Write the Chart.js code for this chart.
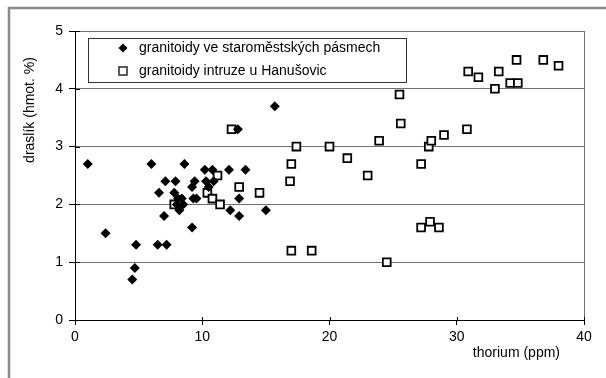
<!DOCTYPE html>
<html>
<head>
<meta charset="utf-8">
<script src="https://cdn.jsdelivr.net/npm/chart.js@4.4.1/dist/chart.umd.min.js"></script>
<style>
  body { margin: 0; background: #fff; }
</style>
</head>
<body>
<canvas id="chart" width="606" height="378"></canvas>
<script>
const seriesNames = ['granitoidy ve staroměstských pásmech', 'granitoidy intruze u Hanušovic'];

// granitoidy ve staroměstských pásmech
const staroThorium = [1.0, 2.4, 4.5, 4.7, 4.8, 6.0, 6.5, 7.2, 6.6, 7.1, 7.0, 7.9, 7.8, 8.1, 8.4, 8.2, 8.5, 8.0, 8.6,
  9.2, 9.2, 9.4, 9.3, 9.55, 10.2, 10.8, 10.3, 10.5, 10.9, 12.1, 13.4, 12.9, 12.2, 12.9, 15.0, 12.8, 15.7];
const staroDraslik = [2.7, 1.5, 0.7, 0.9, 1.3, 2.7, 1.3, 1.3, 2.2, 2.4, 1.8, 2.4, 2.2, 2.1, 2.1, 1.9, 2.0, 2.0, 2.7,
  1.6, 2.3, 2.4, 2.1, 2.1, 2.6, 2.6, 2.4, 2.3, 2.4, 2.6, 2.6, 2.1, 1.9, 1.8, 1.9, 3.3, 3.7];

// granitoidy intruze u Hanušovic
const hanuThorium = [7.8, 10.4, 10.8, 11.2, 11.4, 12.3, 12.9, 14.5, 16.9, 17.0, 17.4, 17.0, 18.6, 20.0, 21.4, 23.0,
  23.9, 24.5, 25.5, 25.6, 27.2, 27.2, 27.9, 28.6, 27.8, 28.0, 29.0, 30.8, 30.9, 31.7, 33.3, 33.0, 34.2, 34.8, 34.7, 36.8, 38.0];
const hanuDraslik = [2.0, 2.2, 2.1, 2.5, 2.0, 3.3, 2.3, 2.2, 2.4, 2.7, 3.0, 1.2, 1.2, 3.0, 2.8, 2.5,
  3.1, 1.0, 3.9, 3.4, 2.7, 1.6, 1.7, 1.6, 3.0, 3.1, 3.2, 3.3, 4.3, 4.2, 4.3, 4.0, 4.1, 4.1, 4.5, 4.5, 4.4];

const xTitle = 'thorium (ppm)';
const yTitle = 'draslík (hmot. %)';
const xMax = 40;
const yMax = 5;

const font = 'Liberation Sans';

function toPoints(xs, ys) {
  return xs.map((x, i) => ({x: x, y: ys[i]}));
}

// outer frame, inside tick marks, axis titles, legend box
const extras = {
  id: 'extras',
  beforeDraw(chart) {
    const ctx = chart.ctx;
    ctx.save();
    ctx.fillStyle = '#fff';
    ctx.fillRect(0, 0, chart.width, chart.height);
    ctx.strokeStyle = '#8c8c8c';
    ctx.lineWidth = 2.5;
    ctx.strokeRect(9, 8, chart.width + 10, chart.height + 10);
    ctx.restore();
  },
  afterDraw(chart) {
    const ctx = chart.ctx;
    const area = chart.chartArea;
    const xs = chart.scales.x;
    const ys = chart.scales.y;
    ctx.save();
    ctx.strokeStyle = '#000';
    ctx.lineWidth = 1;
    ys.ticks.forEach(t => {
      const y = Math.round(ys.getPixelForValue(t.value)) + 0.5;
      ctx.beginPath();
      ctx.moveTo(area.left, y);
      ctx.lineTo(area.left + 5, y);
      ctx.stroke();
    });
    xs.ticks.forEach(t => {
      const x = Math.round(xs.getPixelForValue(t.value)) + 0.5;
      ctx.beginPath();
      ctx.moveTo(x, area.bottom);
      ctx.lineTo(x, area.bottom - 3);
      ctx.stroke();
    });

    ctx.fillStyle = '#000';
    ctx.font = '14px "' + font + '"';
    ctx.textBaseline = 'middle';
    ctx.textAlign = 'right';
    ctx.fillText(xTitle, 560, 353);
    ctx.save();
    ctx.translate(30, 110);
    ctx.rotate(-Math.PI / 2);
    ctx.textAlign = 'center';
    ctx.fillText(yTitle, 0, 0);
    ctx.restore();

    // legend
    ctx.fillStyle = '#fff';
    ctx.fillRect(88, 38, 318, 44);
    ctx.strokeStyle = '#333';
    ctx.strokeRect(88.5, 38.5, 318, 44);
    ctx.fillStyle = '#000';
    ctx.beginPath();
    ctx.moveTo(123, 43.5);
    ctx.lineTo(127.5, 48);
    ctx.lineTo(123, 52.5);
    ctx.lineTo(118.5, 48);
    ctx.closePath();
    ctx.fill();
    ctx.lineWidth = 1.6;
    ctx.strokeRect(119, 67, 8, 8);
    ctx.textAlign = 'left';
    ctx.fillText(chart.data.datasets[0].label, 139, 48);
    ctx.fillText(chart.data.datasets[1].label, 139, 71);
    ctx.restore();
  }
};

new Chart(document.getElementById('chart'), {
  type: 'scatter',
  data: {
    datasets: [{
      label: seriesNames[0],
      data: toPoints(staroThorium, staroDraslik),
      pointStyle: 'rectRot',
      pointRadius: 5,
      backgroundColor: '#000',
      borderColor: '#000',
      borderWidth: 0
    }, {
      label: seriesNames[1],
      data: toPoints(hanuThorium, hanuDraslik),
      pointStyle: 'rect',
      pointRadius: 5.5,
      backgroundColor: '#fff',
      borderColor: '#000',
      borderWidth: 1.8
    }]
  },
  options: {
    responsive: false,
    animation: false,
    events: [],
    layout: {
      padding: {left: 0, top: 31, right: 22, bottom: 28}
    },
    plugins: {
      legend: {display: false},
      tooltip: {enabled: false}
    },
    scales: {
      x: {
        type: 'linear',
        min: 0,
        max: xMax,
        afterFit(scale) { scale.height = 30; },
        ticks: {
          stepSize: 10,
          color: '#000',
          padding: 4,
          font: {family: font, size: 14}
        },
        grid: {
          color: ctx => ctx.tick && ctx.tick.value === xMax ? '#707070' : 'rgba(0,0,0,0)',
          tickColor: '#000',
          tickLength: 5
        },
        border: {color: '#000', width: 1}
      },
      y: {
        min: 0,
        max: yMax,
        afterFit(scale) { scale.width = 75; },
        ticks: {
          stepSize: 1,
          color: '#000',
          padding: 6,
          font: {family: font, size: 14}
        },
        grid: {
          color: ctx => ctx.tick && ctx.tick.value === 0 ? 'rgba(0,0,0,0)' : '#707070',
          tickColor: '#000',
          tickLength: 6
        },
        border: {color: '#000', width: 1}
      }
    }
  },
  plugins: [extras]
});
</script>
</body>
</html>
